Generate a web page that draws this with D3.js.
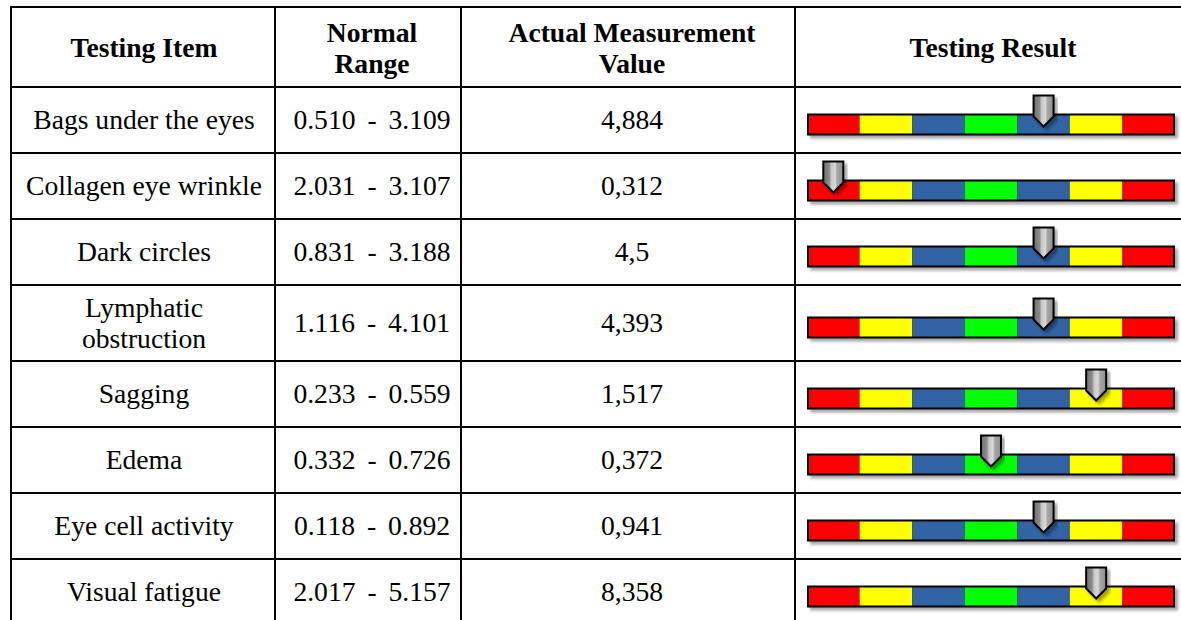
<!DOCTYPE html>
<html>
<head>
<meta charset="utf-8">
<script src="https://cdn.jsdelivr.net/npm/d3@7"></script>
<style>
  html, body { margin: 0; padding: 0; background: #fff; }
  svg { display: block; }
  text { font-family: "Liberation Serif", "Times New Roman", serif; fill: #000; }
</style>
</head>
<body>
<svg id="chart" width="1181" height="620"></svg>
<script>
// ---- data ----
const headers = ["Testing Item", "Normal\nRange", "Actual Measurement\nValue", "Testing Result"];
const items = ["Bags under the eyes", "Collagen eye wrinkle", "Dark circles", "Lymphatic\nobstruction",
               "Sagging", "Edema", "Eye cell activity", "Visual fatigue"];
const normalRanges = ["0.510 - 3.109", "2.031 - 3.107", "0.831 - 3.188", "1.116 - 4.101",
                      "0.233 - 0.559", "0.332 - 0.726", "0.118 - 0.892", "2.017 - 5.157"];
const measuredValues = ["4,884", "0,312", "4,5", "4,393", "1,517", "0,372", "0,941", "8,358"];
// index of the gauge segment the pointer sits on (0 = far left red ... 6 = far right red)
const resultLevel = [4, 0, 4, 4, 5, 3, 4, 5];
const segmentColors = ["#ff0000", "#ffff00", "#3063a5", "#00ff00", "#3063a5", "#ffff00", "#ff0000"];

// ---- layout ----
const svg = d3.select("#chart");
const FS = 27.6;
const colEdges = [11, 275, 461, 795, 1191];
const colCenters = [144, 372, 632, 993];
const tableTop = 7, headerH = 80;
const rowBase = 66, rowExtra = 10;

const rowHeights = items.map(t => rowBase + (t.split("\n").length - 1) * rowExtra);
const rowTops = [];
let yAcc = tableTop + headerH;
rowHeights.forEach(h => { rowTops.push(yAcc); yAcc += h; });
const tableBottom = yAcc;

const defs = svg.append("defs");
const f = defs.append("filter").attr("id", "shadow")
  .attr("x", "-10%").attr("y", "-30%").attr("width", "130%").attr("height", "180%");
f.append("feDropShadow").attr("dx", 3).attr("dy", 3).attr("stdDeviation", 1.6)
  .attr("flood-color", "#000").attr("flood-opacity", 0.35);
const g = defs.append("linearGradient").attr("id", "ptr").attr("x1", "0").attr("x2", "1").attr("y1", "0").attr("y2", "0");
[["0%", "#6f6f6f"], ["30%", "#8c8c8c"], ["40%", "#c8c8c8"], ["60%", "#d8d8d8"], ["68%", "#a8a8a8"], ["100%", "#8e8e8e"]]
  .forEach(([o, c]) => g.append("stop").attr("offset", o).attr("stop-color", c));

svg.append("rect").attr("width", 1181).attr("height", 620).attr("fill", "#fff");

// multi-line text helper
function multiText(sel, str, cx, cy, opts = {}) {
  const lines = str.split("\n");
  const lh = FS * 1.15;
  const t = sel.append("text")
    .attr("text-anchor", "middle")
    .attr("font-size", FS)
    .attr("font-weight", opts.bold ? "bold" : "normal");
  if (opts.wordSpacing) t.style("word-spacing", opts.wordSpacing + "px");
  lines.forEach((ln, i) => {
    t.append("tspan").attr("x", cx)
      .attr("y", cy + (i - (lines.length - 1) / 2) * lh + FS * 0.34)
      .text(ln);
  });
  return t;
}

// header
headers.forEach((h, i) => multiText(svg, h, colCenters[i], tableTop + headerH / 2 + 1, { bold: true }));

// rows
const seg = d3.scaleBand().domain(d3.range(segmentColors.length)).range([807, 1175]).padding(0);
items.forEach((it, r) => {
  const cy = rowTops[r] + rowHeights[r] / 2;
  multiText(svg, it, colCenters[0], cy);
  multiText(svg, normalRanges[r], colCenters[1], cy, { wordSpacing: 5 });
  multiText(svg, measuredValues[r], colCenters[2], cy);

  const barTop = cy + 4.5 - 11, barH = 22;
  const gg = svg.append("g");
  const bar = gg.append("g").attr("filter", "url(#shadow)");
  bar.append("rect").attr("x", seg.range()[0]).attr("y", barTop)
    .attr("width", seg.range()[1] - seg.range()[0]).attr("height", barH).attr("fill", "#000");
  bar.selectAll("rect.seg").data(segmentColors).join("rect").attr("class", "seg")
    .attr("x", (d, i) => seg(i) + (i === 0 ? 2 : 0))
    .attr("y", barTop + 2)
    .attr("width", (d, i) => seg.bandwidth() - (i === 0 || i === segmentColors.length - 1 ? 2 : 0))
    .attr("height", barH - 4)
    .attr("fill", d => d);

  const px = seg(resultLevel[r]) + seg.bandwidth() / 2;
  const pt = barTop - 18, pw = 10;
  const path = d3.path();
  path.moveTo(px - pw, pt);
  path.lineTo(px + pw, pt);
  path.lineTo(px + pw, barTop + 3);
  path.lineTo(px, barTop + 13);
  path.lineTo(px - pw, barTop + 3);
  path.closePath();
  gg.append("path").attr("d", path.toString())
    .attr("fill", "url(#ptr)").attr("stroke", "#000").attr("stroke-width", 2)
    .attr("stroke-linejoin", "miter").attr("filter", "url(#shadow)");
});

// grid lines
const hLines = [tableTop, tableTop + headerH, ...rowTops.slice(1), tableBottom];
svg.selectAll("line.h").data(hLines).join("line").attr("class", "h")
  .attr("x1", colEdges[0] - 1).attr("x2", colEdges[colEdges.length - 1] + 1)
  .attr("y1", d => d).attr("y2", d => d)
  .attr("stroke", "#000").attr("stroke-width", 2);
svg.selectAll("line.v").data(colEdges).join("line").attr("class", "v")
  .attr("x1", d => d).attr("x2", d => d)
  .attr("y1", tableTop - 1).attr("y2", tableBottom + 1)
  .attr("stroke", "#000").attr("stroke-width", 2);
</script>
</body>
</html>
